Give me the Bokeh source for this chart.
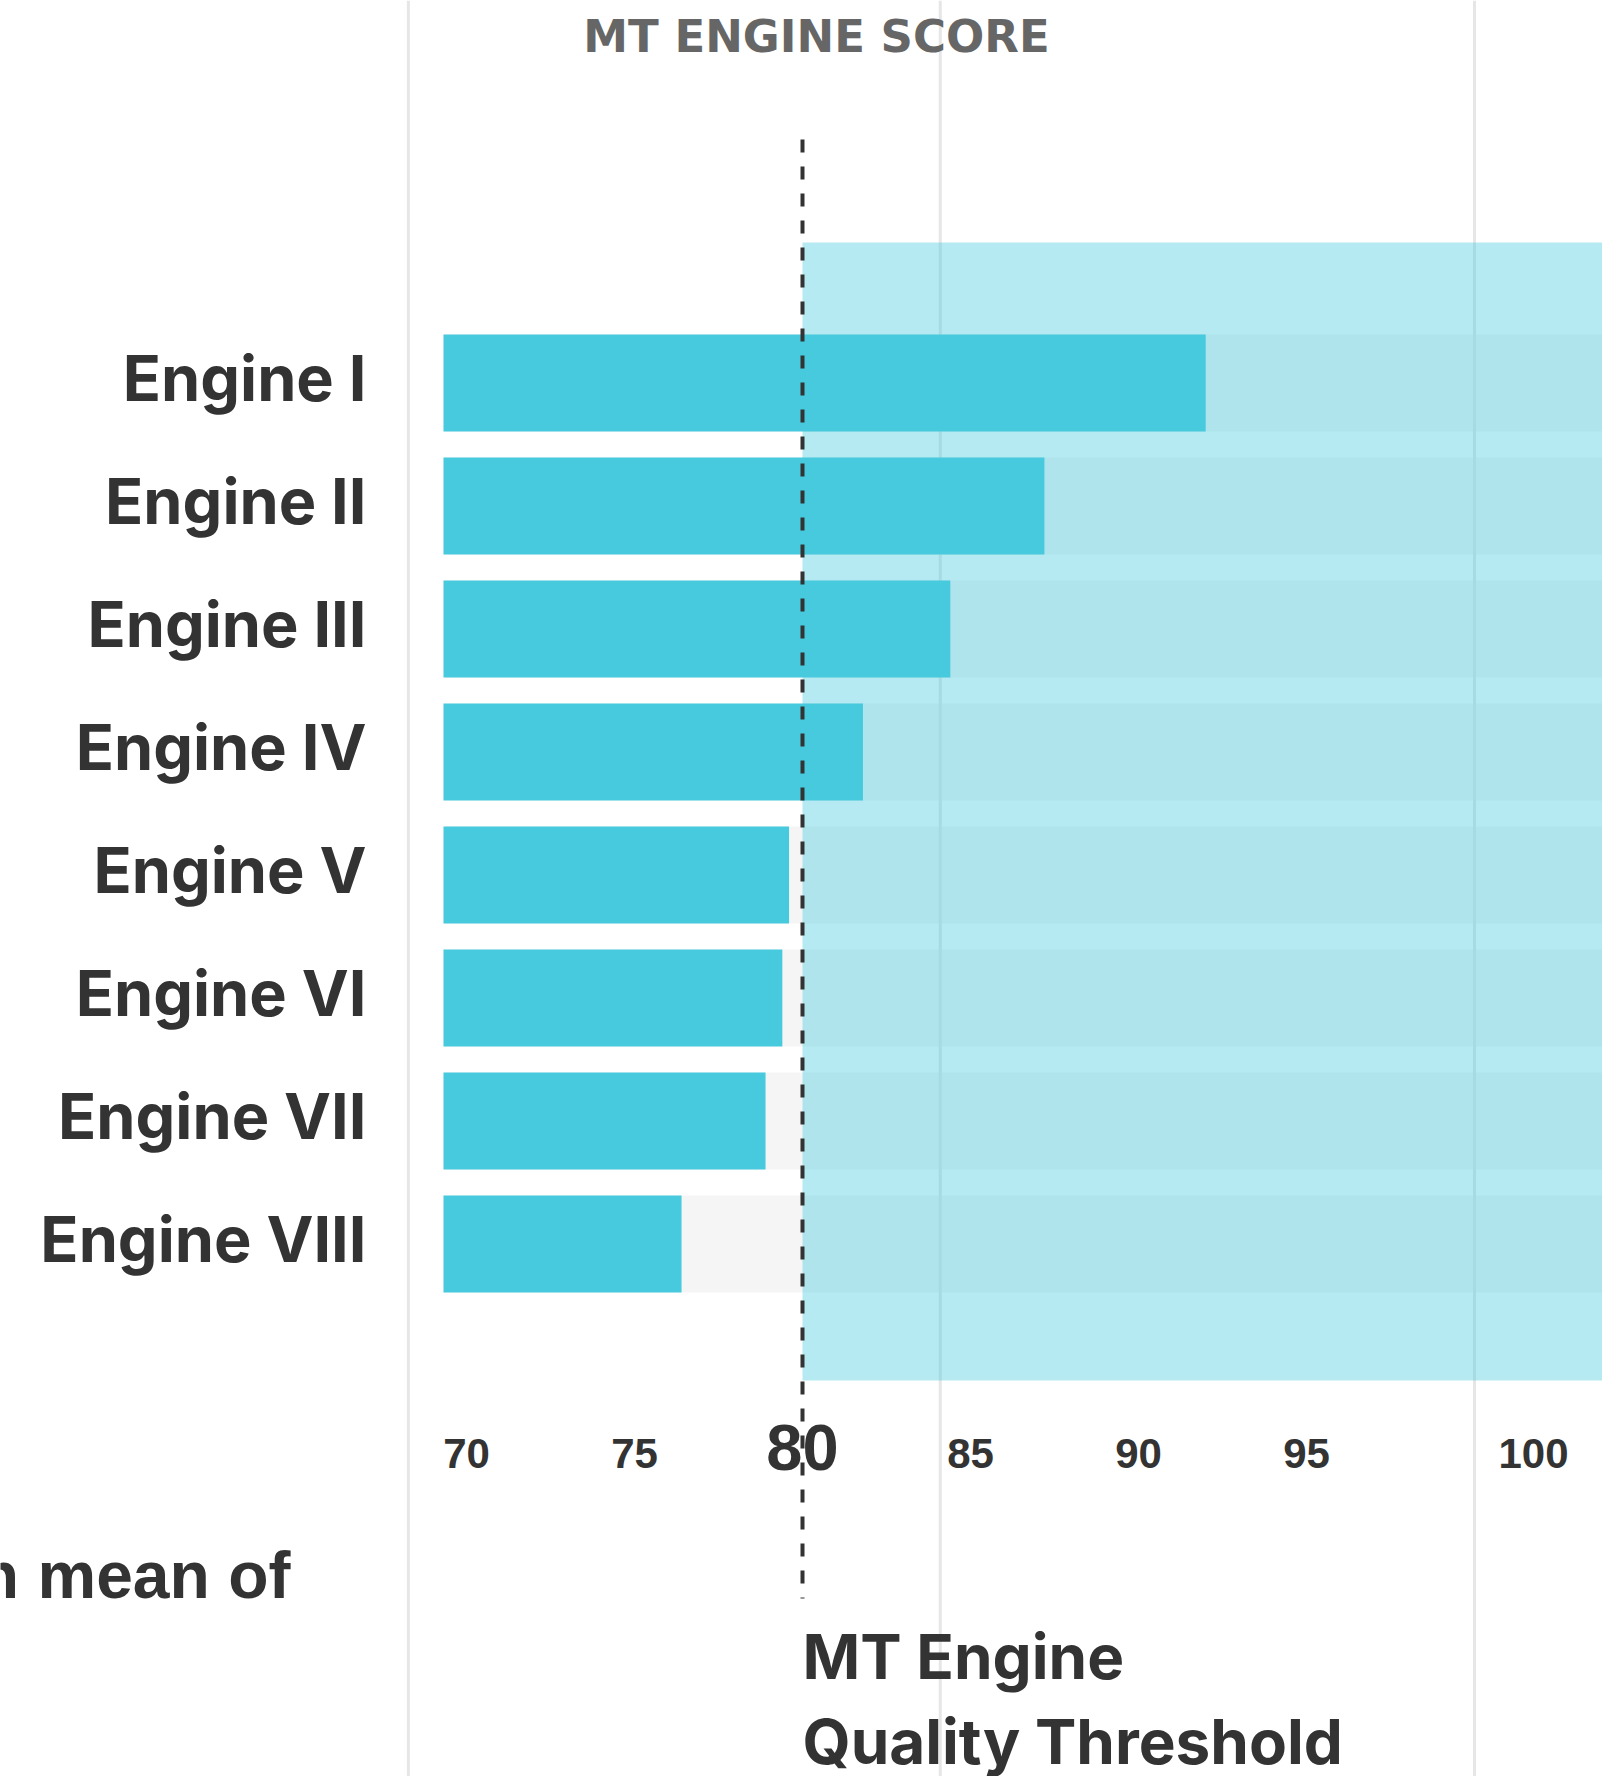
import numpy as np
from bokeh.plotting import figure
from bokeh.models import Range1d, ColumnDataSource
from bokeh.core.properties import value
from bokeh.embed import file_html
from bokeh.resources import INLINE

# ---------------- data ----------------
engines = ["Engine I", "Engine II", "Engine III", "Engine IV",
           "Engine V", "Engine VI", "Engine VII", "Engine VIII"]
scores = [92.0, 87.2, 84.4, 81.8, 79.6, 79.4, 78.9, 76.4]
tick_values = [70, 75, 85, 90, 95, 100]
tick_labels = ["70", "75", "85", "90", "95", "100"]
threshold = 80
threshold_label = "80"
title_text = "MT ENGINE SCORE"
threshold_lines = ["MT Engine", "Quality Threshold"]
side_note = "n mean of"
guide_values = [68.27, 84.1, 100.0]

# ---------------- layout ----------------
W, H = 1602, 1776
PX = 33.6                      # pixels per score unit
X_LEFT = threshold - 802 / PX  # value at the left canvas edge
X_RIGHT = X_LEFT + W / PX
BAR_BASE = X_LEFT + 443 / PX


def px_x(px):
    return X_LEFT + px / PX


ROW0, PITCH, BAR_H = 382.4, 123.0, 97.0
rows = ROW0 + PITCH * np.arange(len(engines))

DARK = "#333333"
BAR = "#48cade"

p = figure(width=W, height=H, x_range=Range1d(X_LEFT, X_RIGHT),
           y_range=Range1d(H, 0), output_backend="svg", toolbar_location=None,
           x_axis_location=None, y_axis_location=None, min_border=0)
p.grid.visible = False
p.outline_line_color = None
p.background_fill_color = "white"
p.border_fill_color = "white"

# gray tracks
p.hbar(y=rows, left=BAR_BASE, right=X_RIGHT, height=BAR_H,
       fill_color="#f5f5f5", line_color=None)
# guide lines
p.segment(x0=guide_values, x1=guide_values, y0=0, y1=H,
          line_color="#e6e6e6", line_width=3)
# threshold band
p.quad(left=[threshold], right=[X_RIGHT], top=[242], bottom=[1380],
       fill_color=BAR, fill_alpha=0.4, line_color=None)
# score bars
p.hbar(y=rows, left=BAR_BASE, right=scores, height=BAR_H,
       fill_color=BAR, line_color=None)
# threshold dashed line
p.segment(x0=[threshold], x1=[threshold], y0=[139], y1=[1598],
          line_color=DARK, line_width=4, line_dash="13 14")

# engine labels
p.text(x=BAR_BASE, y=rows - 5, text=engines, text_align="right",
       text_baseline="alphabetic", x_offset=-77,
       text_font=value("Inter"), text_font_style="bold",
       text_font_size="63px", text_color=DARK)

# tick labels
tsrc = ColumnDataSource(dict(x=tick_values, text=tick_labels,
                             off=[0, 0, 0, 0, 0, 59]))
p.text(x="x", y=1453, text="text", x_offset="off", source=tsrc,
       text_align="center", text_baseline="alphabetic",
       text_font=value("Liberation Sans"), text_font_style="bold",
       text_font_size="42px", text_color=DARK)
p.text(x=[threshold], y=[1447], text=[threshold_label],
       text_align="center", text_baseline="alphabetic",
       text_font=value("Liberation Sans"), text_font_style="bold",
       text_font_size="65px", text_color=DARK)

# threshold caption
p.text(x=[threshold, threshold], y=[1656, 1741], text=threshold_lines,
       text_align="left", text_baseline="alphabetic",
       text_font=value("Inter"), text_font_style="bold",
       text_font_size="62px", text_color=DARK)

# title
p.text(x=[threshold], y=[36], text=[title_text], x_offset=14,
       text_align="center", text_baseline="alphabetic",
       text_font=value("DejaVu Sans"), text_font_style="bold",
       text_font_size="45px", text_color="#666666")

# cropped side note
p.text(x=[px_x(290)], y=[1574], text=[side_note],
       text_align="right", text_baseline="alphabetic",
       text_font=value("Liberation Sans"), text_font_style="bold",
       text_font_size="66px", text_color=DARK)

open("out.html", "w").write(file_html(p, INLINE))
